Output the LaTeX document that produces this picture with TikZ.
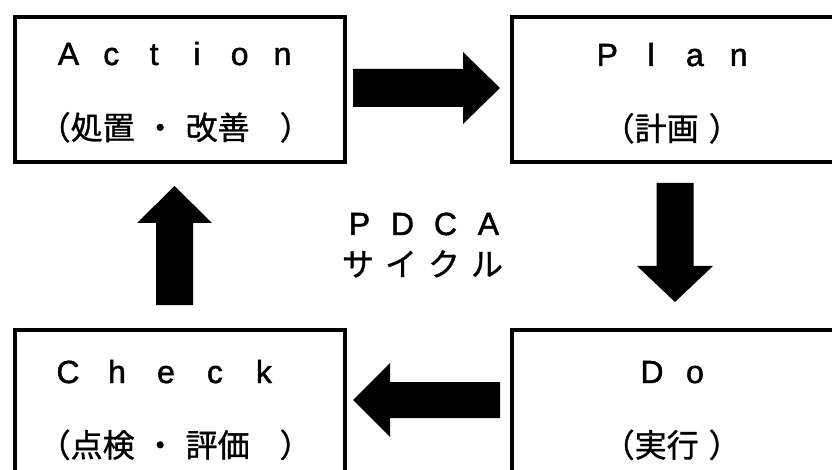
\documentclass[tikz,border=0pt]{standalone}
\usepackage{fontspec}
\setmainfont[FakeBold=1.5]{Liberation Sans}
\newfontfamily\jp[FakeBold=1]{Noto Sans CJK JP}
\makeatletter
\newcommand\spaced[2]{\@tfor\ltr:=#2\do{\makebox[#1]{\ltr}}}
\makeatother
\begin{document}
\begin{tikzpicture}[x=1pt,y=-1pt,
  box/.style={draw=black, line width=4pt, fill=white, inner sep=0pt, anchor=north west},
  lat/.style={inner sep=0pt, anchor=base, font=\fontsize{32}{32}\selectfont},
  jpl/.style={inner sep=0pt, anchor=base, font=\jp\fontsize{32}{32}\selectfont},
  jpt/.style={inner sep=0pt, anchor=base west, font=\jp\fontsize{32}{32}\selectfont},
  arrowfill/.style={fill=black}]
\useasboundingbox (0,0) rectangle (832,470);
\clip (0,0) rectangle (832,470);
% boxes
\node[box, minimum width=330, minimum height=145] (action) at (13,15.5) {};
\node[box, minimum width=340, minimum height=145] (plan) at (510,15.5) {};
\node[box, minimum width=330, minimum height=160] (check) at (13,328) {};
\node[box, minimum width=340, minimum height=160] (do) at (510,328) {};
% texts
\node[lat] (actL) at (175.5,65) {\spaced{42.8pt}{Action}};
\node[jpt] (actJ) at (38.5,139.5) {（処置\hspace{9.5pt}・\hspace{9.5pt}改善\hspace{30pt}）};
\node[lat] (planL) at (673,66) {\spaced{43.8pt}{Plan}};
\node[jpt] (planJ) at (602.5,140.5) {（計画\hspace{10pt}）};
\node[lat] (checkL) at (166,383) {\spaced{49pt}{Check}};
\node[jpt] (checkJ) at (38.5,457) {（点検\hspace{9.5pt}・\hspace{9.5pt}評価\hspace{30pt}）};
\node[lat] (doL) at (673.5,383) {\spaced{43pt}{Do}};
\node[jpt] (doJ) at (602.5,457) {（実行\hspace{10pt}）};
\node[lat] (pdca) at (424,235) {\spaced{43pt}{PDCA}};
\node[jpl] (cycle) at (422.5,276) {\spaced{43pt}{サイクル}};
% block arrows
\coordinate (rt) at (353,88);
\fill[arrowfill] (rt) ++(0,-19) -- ++(110,0) -- ++(0,-17) -- ++(37,36) -- ++(-37,36) -- ++(0,-17) -- ++(-110,0) -- cycle;
\coordinate (dn) at (675,183);
\fill[arrowfill] (dn) ++(-18.5,0) -- ++(0,83) -- ++(-19.5,0) -- ++(38,36) -- ++(38,-36) -- ++(-19.5,0) -- ++(0,-83) -- cycle;
\coordinate (lf) at (500,400);
\fill[arrowfill] (lf) ++(0,-18) -- ++(-110,0) -- ++(0,-19) -- ++(-37,37) -- ++(37,37) -- ++(0,-19) -- ++(110,0) -- cycle;
\coordinate (up) at (174.5,305);
\fill[arrowfill] (up) ++(-18.5,0) -- ++(0,-82) -- ++(-19,0) -- ++(37.5,-37) -- ++(37.5,37) -- ++(-19,0) -- ++(0,82) -- cycle;
\end{tikzpicture}
\end{document}
